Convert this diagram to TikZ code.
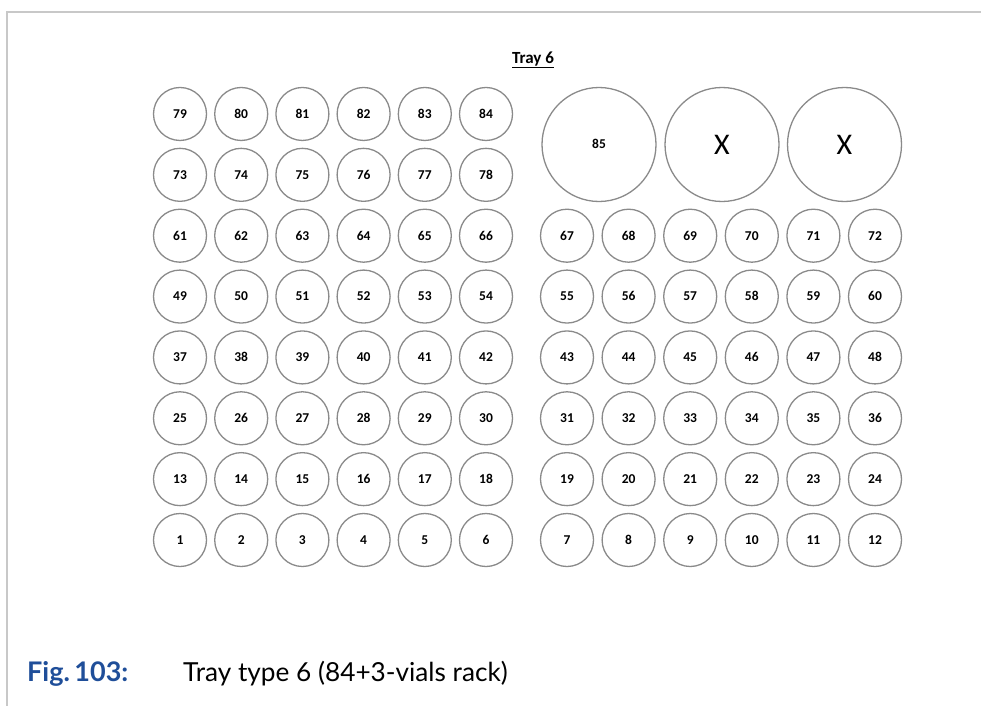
\documentclass[tikz,border=0pt]{standalone}
\usepackage{fontspec}
\setmainfont{Carlito}
\newfontfamily\capfont{Lato}
\definecolor{ringgray}{HTML}{8A8A8A}
\definecolor{framegray}{HTML}{C8C8C8}
\definecolor{figblue}{HTML}{1F4E99}
\begin{document}
\begin{tikzpicture}[x=1pt,y=-1pt,
  vial/.style={circle,draw=ringgray,line width=1.3pt,minimum size=53pt,inner sep=0pt,text height=8.6pt,text depth=0pt,font=\fontsize{13.5}{13.5}\selectfont\bfseries},
  bigvial/.style={circle,draw=ringgray,line width=1.3pt,minimum size=114pt,inner sep=0pt},
  frameline/.style={draw=framegray,line width=1.6pt}]
\useasboundingbox (0,0) rectangle (981,706);
\coordinate (ftl) at (7,12);
\coordinate (ftr) at (981,12);
\coordinate (fbl) at (7,706);
\draw[frameline] (ftr) -- (ftl) -- (fbl);
\node[font=\fontsize{17}{17}\selectfont\bfseries,inner sep=0pt] (title) at (533,60) {\underline{Tray 6}};
% left block rows 0..7, right block rows 0..5
\foreach \r in {0,...,5}{
  \foreach \c in {0,...,5}{
    \pgfmathtruncatemacro{\nl}{12*\r+\c+1}
    \pgfmathtruncatemacro{\nr}{12*\r+\c+7}
    \node[vial] (v\nl) at ({180+61.2*\c},{540-60.86*\r}) {\nl};
    \node[vial] (v\nr) at ({567+61.6*\c},{540-60.86*\r}) {\nr};
  }
}
\foreach \r in {6,7}{
  \foreach \c in {0,...,5}{
    \pgfmathtruncatemacro{\nl}{6*\r+\c+37}
    \node[vial] (v\nl) at ({180+61.2*\c},{540-60.86*\r}) {\nl};
  }
}
\node[bigvial,text height=8.6pt,text depth=0pt,font=\fontsize{13.5}{13.5}\selectfont\bfseries] (v85) at (599,144.5) {85};
\node[bigvial,font=\fontsize{30}{30}\selectfont] (x1) at (722,144.5) {X};
\node[bigvial,font=\fontsize{30}{30}\selectfont] (x2) at (844.5,144.5) {X};
\node[anchor=base west,inner sep=0pt,text=figblue,font=\capfont\fontsize{27}{27}\selectfont\bfseries] (fig) at (27,681) {Fig.\,103:};
\node[anchor=base west,inner sep=0pt,font=\capfont\fontsize{26.2}{26.2}\selectfont] (cap) at (183,681) {Tray type 6 (84+3-vials rack)};
\end{tikzpicture}
\end{document}
